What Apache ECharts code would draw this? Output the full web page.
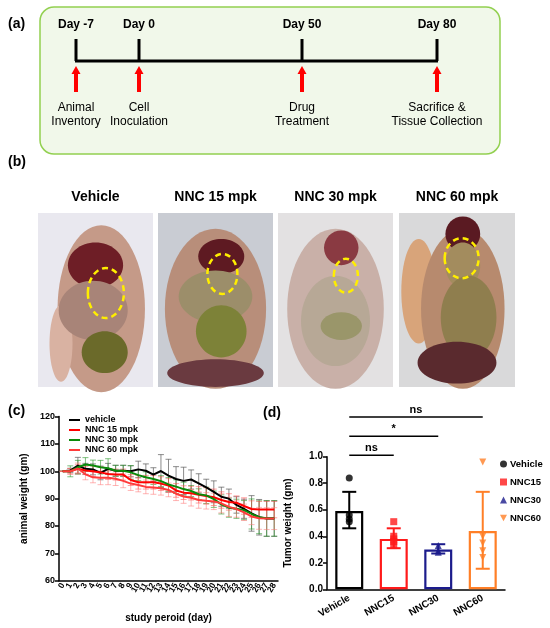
<html>
<head>
<meta charset="utf-8">
<script src="https://cdn.jsdelivr.net/npm/echarts@6/dist/echarts.min.js"></script>
<style>
    html, body { margin: 0; padding: 0; background: #fff; }
    #main { width: 550px; height: 628px; }
</style>
</head>
<body>
<div id="main"></div>
<script>
// ---- panel (a): timeline ----
var milestoneDays = ['Day -7', 'Day 0', 'Day 50', 'Day 80'];
var milestoneEvents = ['Animal\nInventory', 'Cell\nInoculation', 'Drug\nTreatment', 'Sacrifice &\nTissue Collection'];

// ---- panel (b): photo titles ----
var photoTitles = ['Vehicle', 'NNC 15 mpk', 'NNC 30 mpk', 'NNC 60 mpk'];

// ---- panel (c): body weight ----
var days = ['0', '1', '2', '3', '4', '5', '6', '7', '8', '9', '10', '11', '12', '13', '14',
    '15', '16', '17', '18', '19', '20', '21', '22', '23', '24', '25', '26', '27', '28'];
var weightVehicle = [100, 100.3, 102.1, 100.9, 100.7, 99.4, 100.9, 100.2, 100.2, 100, 100.7, 100.2, 98.8, 100.1, 98.4,
    97.2, 96.5, 97, 95.6, 94.1, 92.5, 90.7, 90, 87.7, 86.3, 84.6, 83.2, 82.7, 82.7];
var sdVehicle = [0, 0.8, 3, 2, 2, 2.5, 2, 2, 2, 2, 3, 2.5, 2.5, 6, 6,
    4.5, 5, 3.5, 3.5, 3, 4, 3.5, 3.5, 3, 3.5, 6.5, 6.5, 6.5, 6.5];
var weightNNC15 = [100, 100, 100.9, 100.3, 100, 99.6, 99, 98.8, 98.8, 96.8, 96, 96, 96, 95.5, 94.8,
    93, 92.2, 92, 91.4, 91, 90.5, 89.5, 88.8, 88.5, 87.3, 86.2, 86, 86, 86];
var sdNNC15 = [0, 1, 1.5, 1.5, 2, 2, 2, 2, 2, 2, 2.5, 2.5, 2.5, 2.5, 2.5,
    2.5, 2.5, 2.5, 3, 3, 3, 3, 3, 2.5, 3, 3, 3, 3, 3];
var weightNNC30 = [100, 100, 101.5, 102.5, 102.1, 101.5, 101.1, 100.2, 100.2, 99.6, 98.6, 97.8, 97.2, 96.4, 95.2,
    94.4, 93.5, 92.8, 91.6, 91.2, 89.8, 87.9, 86.7, 86.3, 85.8, 84.4, 83.2, 82.8, 82.8];
var sdNNC30 = [0, 2, 2.5, 2.5, 2, 2.5, 3.5, 2, 2, 2.5, 2, 2, 2, 2, 2.5,
    2.5, 2.5, 2, 2, 3, 3, 3.5, 3.5, 3.5, 3.5, 5.5, 6, 6.5, 6.5];
var weightNNC60 = [100, 100, 101, 98.9, 97.8, 97.6, 97.6, 97.3, 96.5, 95.5, 95, 94.3, 94.1, 93.8, 93.2,
    91.8, 90.8, 90.3, 89.5, 89.2, 89, 88.3, 87, 86.2, 85, 83.5, 82.8, 82.7, 82.7];
var sdNNC60 = [0, 1, 2, 2, 2, 2.5, 2.5, 2.5, 2.5, 2.5, 2.5, 2.5, 2.5, 2.5, 2.5,
    2.5, 2.5, 3, 3, 3, 3, 3.5, 3.5, 3, 3, 3, 4, 4, 4];

// ---- panel (d): tumor weight ----
var groups = ['Vehicle', 'NNC15', 'NNC30', 'NNC60'];
var tumorMean = [0.59, 0.38, 0.30, 0.44];
var tumorLow = [0.46, 0.31, 0.27, 0.155];
var tumorHigh = [0.735, 0.46, 0.34, 0.735];
var pointsVehicle = [0.84, 0.56, 0.53, 0.51];
var pointsNNC15 = [0.51, 0.40, 0.38, 0.36, 0.33];
var pointsNNC30 = [0.33, 0.29, 0.28];
var pointsNNC60 = [0.96, 0.40, 0.35, 0.29, 0.24];
// [from group, to group, bracket height, label]
var brackets = [[0, 1, 1.01, 'ns'], [0, 2, 1.155, '*'], [0, 3, 1.30, 'ns']];

var FONT = '"Liberation Sans", Arial, sans-serif';
var groupColors = ['#000000', '#ff1a1a', '#1c1c8c', '#ff7f27'];

var chart = echarts.init(document.getElementById('main'));

// ---------- graphic decoration (panels a, b) ----------
var g = [];
function txt(x, y, s, size, weight, align) {
    g.push({ type: 'text', x: x, y: y, style: {
        text: s, font: (weight || 'normal') + ' ' + size + 'px ' + FONT,
        fill: '#000', align: align || 'center', verticalAlign: 'middle', lineHeight: size + 2 } });
}
txt(8, 24, '(a)', 14, 'bold', 'left');
txt(8, 162, '(b)', 14, 'bold', 'left');
txt(8, 411, '(c)', 14, 'bold', 'left');
txt(263, 413, '(d)', 14, 'bold', 'left');

g.push({ type: 'rect', shape: { x: 40, y: 7, width: 460, height: 147, r: 14 },
    style: { fill: '#f1f8ea', stroke: '#92d050', lineWidth: 1.5 } });
var markX = [76, 139, 302, 437];
g.push({ type: 'line', shape: { x1: markX[0] - 1, y1: 61, x2: markX[3] + 1, y2: 61 },
    style: { stroke: '#000', lineWidth: 3 } });
markX.forEach(function (x, i) {
    g.push({ type: 'line', shape: { x1: x, y1: 39, x2: x, y2: 61 }, style: { stroke: '#000', lineWidth: 3 } });
    g.push({ type: 'polygon', shape: { points: [[x, 66], [x - 4.5, 74], [x - 2, 74], [x - 2, 92], [x + 2, 92], [x + 2, 74], [x + 4.5, 74]] },
        style: { fill: '#ff0000' } });
    txt(x, 25, milestoneDays[i], 12, 'bold');
    txt(x, 115, milestoneEvents[i], 12, 'normal');
});

// photo placeholders
var photoBoxes = [[38, 213, 115, 174], [158, 213, 115, 174], [278, 213, 115, 174], [399, 213, 116, 174]];
var photoBlobs = [
    [['#e9e8ef', 0.5, 0.5, 0.5, 0.5], ['#c59a88', 0.55, 0.55, 0.38, 0.48], ['#d9b2a2', 0.2, 0.75, 0.1, 0.22],
     ['#6e1e26', 0.5, 0.3, 0.24, 0.13], ['#a88478', 0.48, 0.56, 0.3, 0.17], ['#6b6a2a', 0.58, 0.8, 0.2, 0.12]],
    [['#c9ccd3', 0.5, 0.5, 0.5, 0.5], ['#b88e7a', 0.5, 0.55, 0.44, 0.46], ['#5e1a22', 0.55, 0.25, 0.2, 0.1],
     ['#9c8e6a', 0.5, 0.48, 0.32, 0.15], ['#7d8238', 0.55, 0.68, 0.22, 0.15], ['#6a3a40', 0.5, 0.92, 0.42, 0.08]],
    [['#e3e1e2', 0.5, 0.5, 0.5, 0.5], ['#c9b0a8', 0.5, 0.55, 0.42, 0.46], ['#8a3a42', 0.55, 0.2, 0.15, 0.1],
     ['#b7a896', 0.5, 0.62, 0.3, 0.26], ['#9a966a', 0.55, 0.65, 0.18, 0.08]],
    [['#d9d9da', 0.5, 0.5, 0.5, 0.5], ['#d8a47a', 0.17, 0.45, 0.15, 0.3], ['#b78a6e', 0.55, 0.55, 0.36, 0.46],
     ['#5a1a22', 0.55, 0.12, 0.15, 0.1], ['#a38c5e', 0.55, 0.3, 0.15, 0.13], ['#8f7e4e', 0.6, 0.6, 0.24, 0.24],
     ['#5a2a2e', 0.5, 0.86, 0.34, 0.12]]
];
var tumorRings = [[0.59, 0.46, 18, 25], [0.56, 0.35, 15, 20], [0.59, 0.36, 12, 17], [0.54, 0.26, 17, 20]];
photoBoxes.forEach(function (b, i) {
    txt(b[0] + b[2] / 2, 197, photoTitles[i], 14, 'bold');
    photoBlobs[i].forEach(function (bl, j) {
        if (j === 0) {
            g.push({ type: 'rect', shape: { x: b[0], y: b[1], width: b[2], height: b[3] }, style: { fill: bl[0] } });
        } else {
            g.push({ type: 'ellipse', shape: { cx: b[0] + bl[1] * b[2], cy: b[1] + bl[2] * b[3], rx: bl[3] * b[2], ry: bl[4] * b[3] },
                style: { fill: bl[0] } });
        }
    });
    var r = tumorRings[i];
    g.push({ type: 'ellipse', shape: { cx: b[0] + r[0] * b[2], cy: b[1] + r[1] * b[3], rx: r[2], ry: r[3] },
        style: { fill: 'none', stroke: '#ffee00', lineWidth: 2.5, lineDash: [6, 4] } });
});

// ---------- helpers for series ----------
function errData(mean, sd) {
    return mean.map(function (m, i) { return [i, m - sd[i], m + sd[i]]; });
}
function errRender(color, cap, width) {
    return function (params, api) {
        var x = api.value(0);
        var lo = api.coord([x, api.value(1)]);
        var hi = api.coord([x, api.value(2)]);
        var st = { stroke: color, lineWidth: width };
        return { type: 'group', children: [
            { type: 'line', shape: { x1: lo[0], y1: lo[1], x2: hi[0], y2: hi[1] }, style: st },
            { type: 'line', shape: { x1: hi[0] - cap, y1: hi[1], x2: hi[0] + cap, y2: hi[1] }, style: st },
            { type: 'line', shape: { x1: lo[0] - cap, y1: lo[1], x2: lo[0] + cap, y2: lo[1] }, style: st }
        ] };
    };
}
function weightSeries(name, data, color) {
    return { name: name, type: 'line', xAxisIndex: 0, yAxisIndex: 0, data: data, symbol: 'none',
        lineStyle: { color: color, width: 2 }, itemStyle: { color: color }, z: 5 };
}
function errSeries(mean, sd, color) {
    return { type: 'custom', xAxisIndex: 0, yAxisIndex: 0, data: errData(mean, sd),
        renderItem: errRender(color, 3, 1), z: 2, silent: true };
}
function pointSeries(name, idx, pts, symbol, rot) {
    return { name: name, type: 'scatter', xAxisIndex: 1, yAxisIndex: 1, symbol: symbol, symbolSize: 7,
        symbolRotate: rot || 0, itemStyle: { color: groupColors[idx] }, z: 6,
        data: pts.map(function (v) { return [idx, v]; }) };
}

var axisText = { color: '#000', fontFamily: FONT, fontWeight: 'bold' };

var option = {
    animation: false,
    graphic: g,
    legend: [{
        orient: 'vertical', left: 64, top: 410, itemGap: 0, icon: 'rect', itemWidth: 11, itemHeight: 2,
        textStyle: { fontFamily: FONT, fontWeight: 'bold', fontSize: 9, color: '#000', lineHeight: 10 },
        data: ['vehicle', 'NNC 15 mpk', 'NNC 30 mpk', 'NNC 60 mpk']
    }, {
        orient: 'vertical', left: 500, top: 459, padding: 0, itemGap: 8, itemWidth: 7, itemHeight: 7,
        textStyle: { fontFamily: FONT, fontWeight: 'bold', fontSize: 9.5, color: '#000', padding: [0, 0, 0, -2] },
        data: ['Vehicle', 'NNC15', 'NNC30', { name: 'NNC60', icon: 'path://M0,0L10,0L5,9Z' }]
    }],
    grid: [
        { left: 59, top: 416.6, width: 219, height: 164.1 },
        { left: 327, top: 456.7, width: 178, height: 132.6 }
    ],
    xAxis: [{
        gridIndex: 0, type: 'category', data: days, boundaryGap: true,
        name: 'study peroid (day)', nameLocation: 'middle', nameGap: 33,
        nameTextStyle: { color: '#000', fontFamily: FONT, fontWeight: 'bold', fontSize: 10 },
        axisLine: { lineStyle: { color: '#000', width: 1.5 } },
        axisTick: { alignWithLabel: true, length: 4, lineStyle: { color: '#000', width: 1 } },
        axisLabel: Object.assign({ interval: 0, rotate: 60, fontSize: 8.5, margin: 3 }, axisText)
    }, {
        gridIndex: 1, type: 'category', data: groups,
        axisLine: { lineStyle: { color: '#000', width: 1.5 } },
        axisTick: { alignWithLabel: true, length: 4, lineStyle: { color: '#000', width: 1.5 } },
        axisLabel: Object.assign({ interval: 0, rotate: 30, fontSize: 10, margin: 8 }, axisText)
    }],
    yAxis: [{
        gridIndex: 0, type: 'value', min: 60, max: 120, interval: 10,
        name: 'animal weight (gm)', nameLocation: 'middle', nameGap: 30,
        nameTextStyle: { color: '#000', fontFamily: FONT, fontWeight: 'bold', fontSize: 10 },
        splitLine: { show: false },
        axisLine: { show: true, lineStyle: { color: '#000', width: 1.5 } },
        axisTick: { show: true, length: 4, lineStyle: { color: '#000', width: 1.5 } },
        axisLabel: Object.assign({ fontSize: 9, margin: 4 }, axisText)
    }, {
        gridIndex: 1, type: 'value', min: 0, max: 1, interval: 0.2,
        name: 'Tumor weight (gm)', nameLocation: 'middle', nameGap: 34,
        nameTextStyle: { color: '#000', fontFamily: FONT, fontWeight: 'bold', fontSize: 10 },
        splitLine: { show: false },
        axisLine: { show: true, lineStyle: { color: '#000', width: 1.5 } },
        axisTick: { show: true, length: 4, lineStyle: { color: '#000', width: 1.5 } },
        axisLabel: Object.assign({ fontSize: 10, margin: 4, formatter: function (v) { return v.toFixed(1); } }, axisText)
    }],
    series: [
        errSeries(weightVehicle, sdVehicle, 'rgba(90,90,90,0.7)'),
        errSeries(weightNNC30, sdNNC30, 'rgba(40,150,40,0.6)'),
        errSeries(weightNNC15, sdNNC15, 'rgba(255,80,80,0.55)'),
        errSeries(weightNNC60, sdNNC60, 'rgba(255,120,120,0.55)'),
        weightSeries('vehicle', weightVehicle, '#000000'),
        weightSeries('NNC 15 mpk', weightNNC15, '#ff0000'),
        weightSeries('NNC 30 mpk', weightNNC30, '#0a8a0a'),
        weightSeries('NNC 60 mpk', weightNNC60, '#ff3b3b'),
        {
            type: 'bar', xAxisIndex: 1, yAxisIndex: 1, barWidth: 28, z: 3,
            data: tumorMean.map(function (v, i) {
                return { value: v, itemStyle: { color: 'rgba(255,255,255,0)', borderColor: groupColors[i], borderWidth: 2.2 } };
            })
        },
        {
            type: 'custom', xAxisIndex: 1, yAxisIndex: 1, z: 4, silent: true,
            data: tumorMean.map(function (m, i) { return [i, tumorLow[i], tumorHigh[i]]; }),
            renderItem: function (params, api) {
                return errRender(groupColors[params.dataIndex], 7, 2)(params, api);
            }
        },
        pointSeries('Vehicle', 0, pointsVehicle, 'circle'),
        pointSeries('NNC15', 1, pointsNNC15, 'rect'),
        pointSeries('NNC30', 2, pointsNNC30, 'triangle'),
        pointSeries('NNC60', 3, pointsNNC60, 'triangle', 180),
        {
            type: 'custom', xAxisIndex: 1, yAxisIndex: 1, clip: false, silent: true, z: 6,
            data: brackets,
            renderItem: function (params, api) {
                var a = api.coord([api.value(0), api.value(2)]);
                var b = api.coord([api.value(1), api.value(2)]);
                return { type: 'group', children: [
                    { type: 'line', shape: { x1: a[0], y1: a[1], x2: b[0], y2: b[1] }, style: { stroke: '#000', lineWidth: 1.5 } },
                    { type: 'text', x: (a[0] + b[0]) / 2, y: a[1] - 7, style: {
                        text: brackets[params.dataIndex][3], font: 'bold 11px ' + FONT,
                        fill: '#000', align: 'center', verticalAlign: 'middle' } }
                ] };
            }
        }
    ]
};
chart.setOption(option);
</script>
</body>
</html>
